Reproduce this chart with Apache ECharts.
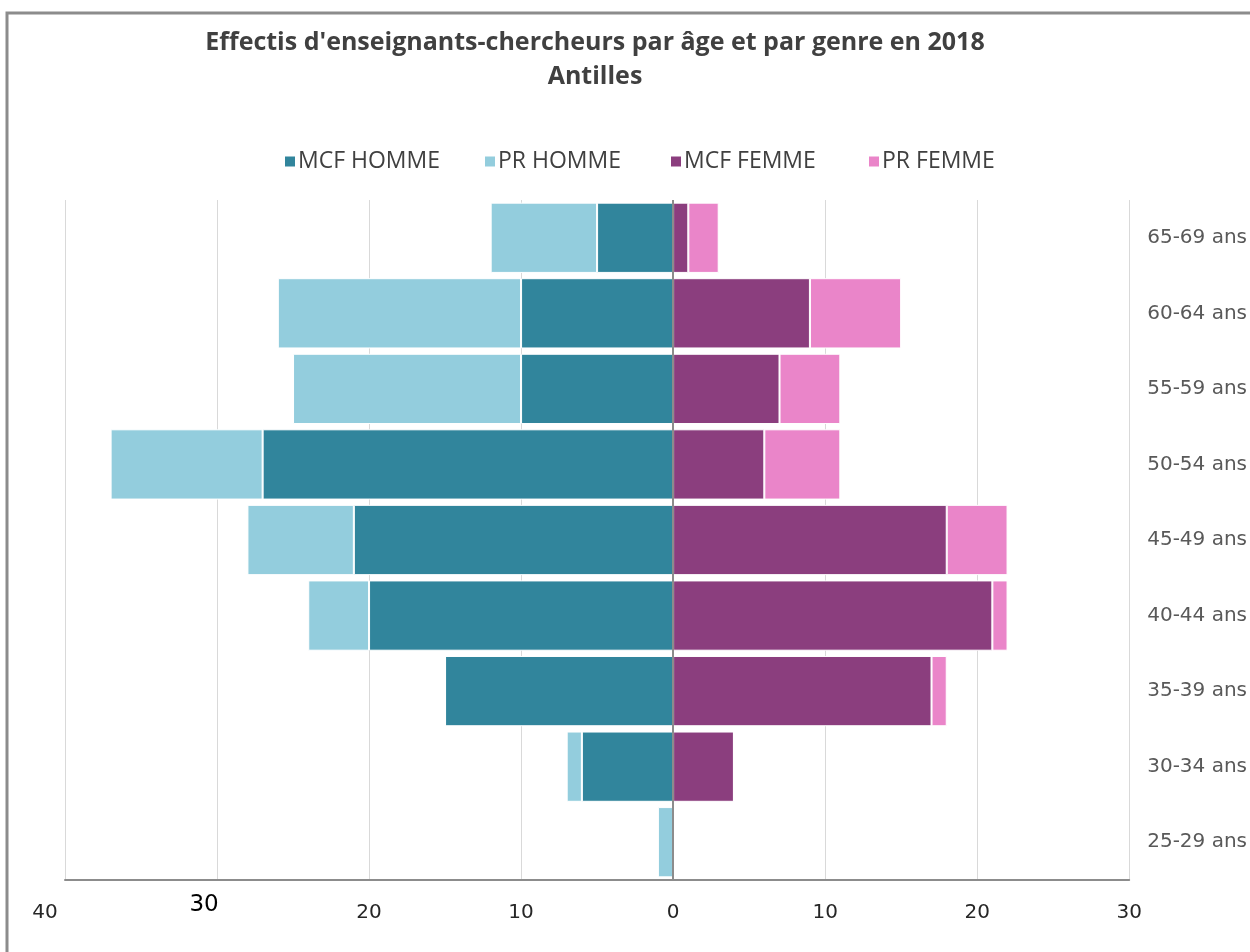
<!DOCTYPE html>
<html>
<head>
<meta charset="utf-8">
<title>Effectis d'enseignants-chercheurs par âge et par genre en 2018</title>
<script src="https://cdn.jsdelivr.net/npm/echarts@6/dist/echarts.min.js"></script>
<style>
  html, body { margin: 0; padding: 0; background: #fff; }
  #chart { width: 1250px; height: 952px; }
</style>
</head>
<body>
<div id="chart"></div>
<script>
// Age bands, bottom to top
const ageBands = ['25-29 ans', '30-34 ans', '35-39 ans', '40-44 ans', '45-49 ans',
                  '50-54 ans', '55-59 ans', '60-64 ans', '65-69 ans'];

// Headcounts per age band (same order as ageBands)
const mcfHomme = [0, 6, 15, 20, 21, 27, 10, 10, 5];
const prHomme  = [1, 1, 0, 4, 7, 10, 15, 16, 7];
const mcfFemme = [0, 4, 17, 21, 18, 6, 7, 9, 1];
const prFemme  = [0, 0, 1, 1, 4, 5, 4, 6, 2];

const seriesNames = ['MCF HOMME', 'PR HOMME', 'MCF FEMME', 'PR FEMME'];
const seriesColors = ['#31859c', '#93cddd', '#8b3e7e', '#ea85c9'];

const neg = arr => arr.map(v => -v);

const fontTitle = "'Open Sans', 'Noto Sans', sans-serif";
const fontWide = "'DejaVu Sans', 'Noto Sans', sans-serif";

const chart = echarts.init(document.getElementById('chart'), null, { renderer: 'canvas' });

function barSeries(name, data, stack, color, extra) {
  return Object.assign({
    name: name,
    type: 'bar',
    stack: stack,
    data: data,
    barGap: '-100%',
    barCategoryGap: '7%',
    itemStyle: { color: color, borderColor: '#ffffff', borderWidth: 1 },
    emphasis: { disabled: true }
  }, extra || {});
}

// one legend entry per series, each placed on its own
const legendLefts = [283, 483, 669, 867];
const legends = seriesNames.map((n, i) => ({
  data: [n],
  top: 150,
  left: legendLefts[i],
  padding: 0,
  itemWidth: 12,
  itemHeight: 12,
  itemGap: 0,
  icon: 'rect',
  textStyle: { fontFamily: fontTitle, fontSize: 23, color: '#404040', padding: [0, 0, 0, -3] }
}));

chart.setOption({
  animation: false,
  backgroundColor: '#ffffff',
  title: {
    text: "Effectis d'enseignants-chercheurs par âge et par genre en 2018",
    subtext: 'Antilles',
    left: 590,
    textAlign: 'center',
    top: 25,
    itemGap: 9,
    textStyle: { fontFamily: fontTitle, fontSize: 25, fontWeight: 'bold', color: '#404040' },
    subtextStyle: { fontFamily: fontTitle, fontSize: 25, fontWeight: 'bold', color: '#404040' }
  },
  legend: legends,
  grid: { left: 65, right: 120, top: 200, bottom: 72 },
  xAxis: {
    type: 'value',
    min: -40,
    max: 30,
    interval: 10,
    axisLine: { show: true, lineStyle: { color: '#8c8c8c', width: 2 } },
    axisTick: { show: false },
    splitLine: { show: true, lineStyle: { color: '#d9d9d9', width: 1 } },
    axisLabel: {
      margin: 10,
      formatter: function (v) {
        if (v === -40) return '{far|40}';
        if (v === -30) return '{big|30}';
        return '{norm|' + Math.abs(v) + '}';
      },
      rich: {
        norm: { fontFamily: fontWide, fontSize: 20, color: '#262626', padding: [13, 0, 0, 0] },
        far: { fontFamily: fontWide, fontSize: 20, color: '#262626', padding: [13, 40, 0, 0] },
        big: { fontFamily: fontWide, fontSize: 23, color: '#000000', padding: [4, 26, 0, 0] }
      }
    }
  },
  yAxis: {
    type: 'category',
    data: ageBands,
    position: 'right',
    axisLine: { show: false },
    axisTick: { show: false },
    axisLabel: {
      margin: 18,
      fontFamily: fontWide,
      fontSize: 20,
      color: '#595959'
    }
  },
  series: [
    barSeries(seriesNames[0], neg(mcfHomme), 'homme', seriesColors[0], {
      markLine: {
        silent: true,
        symbol: 'none',
        label: { show: false },
        lineStyle: { color: '#8c8c8c', width: 2, type: 'solid' },
        data: [{ xAxis: 0 }]
      }
    }),
    barSeries(seriesNames[1], neg(prHomme), 'homme', seriesColors[1]),
    barSeries(seriesNames[2], mcfFemme, 'femme', seriesColors[2]),
    barSeries(seriesNames[3], prFemme, 'femme', seriesColors[3])
  ],
  graphic: [
    {
      type: 'polyline',
      silent: true,
      shape: { points: [[7, 952], [7, 13], [1250, 13]] },
      style: { stroke: '#8c8c8c', lineWidth: 3, fill: null }
    }
  ]
});
</script>
</body>
</html>
